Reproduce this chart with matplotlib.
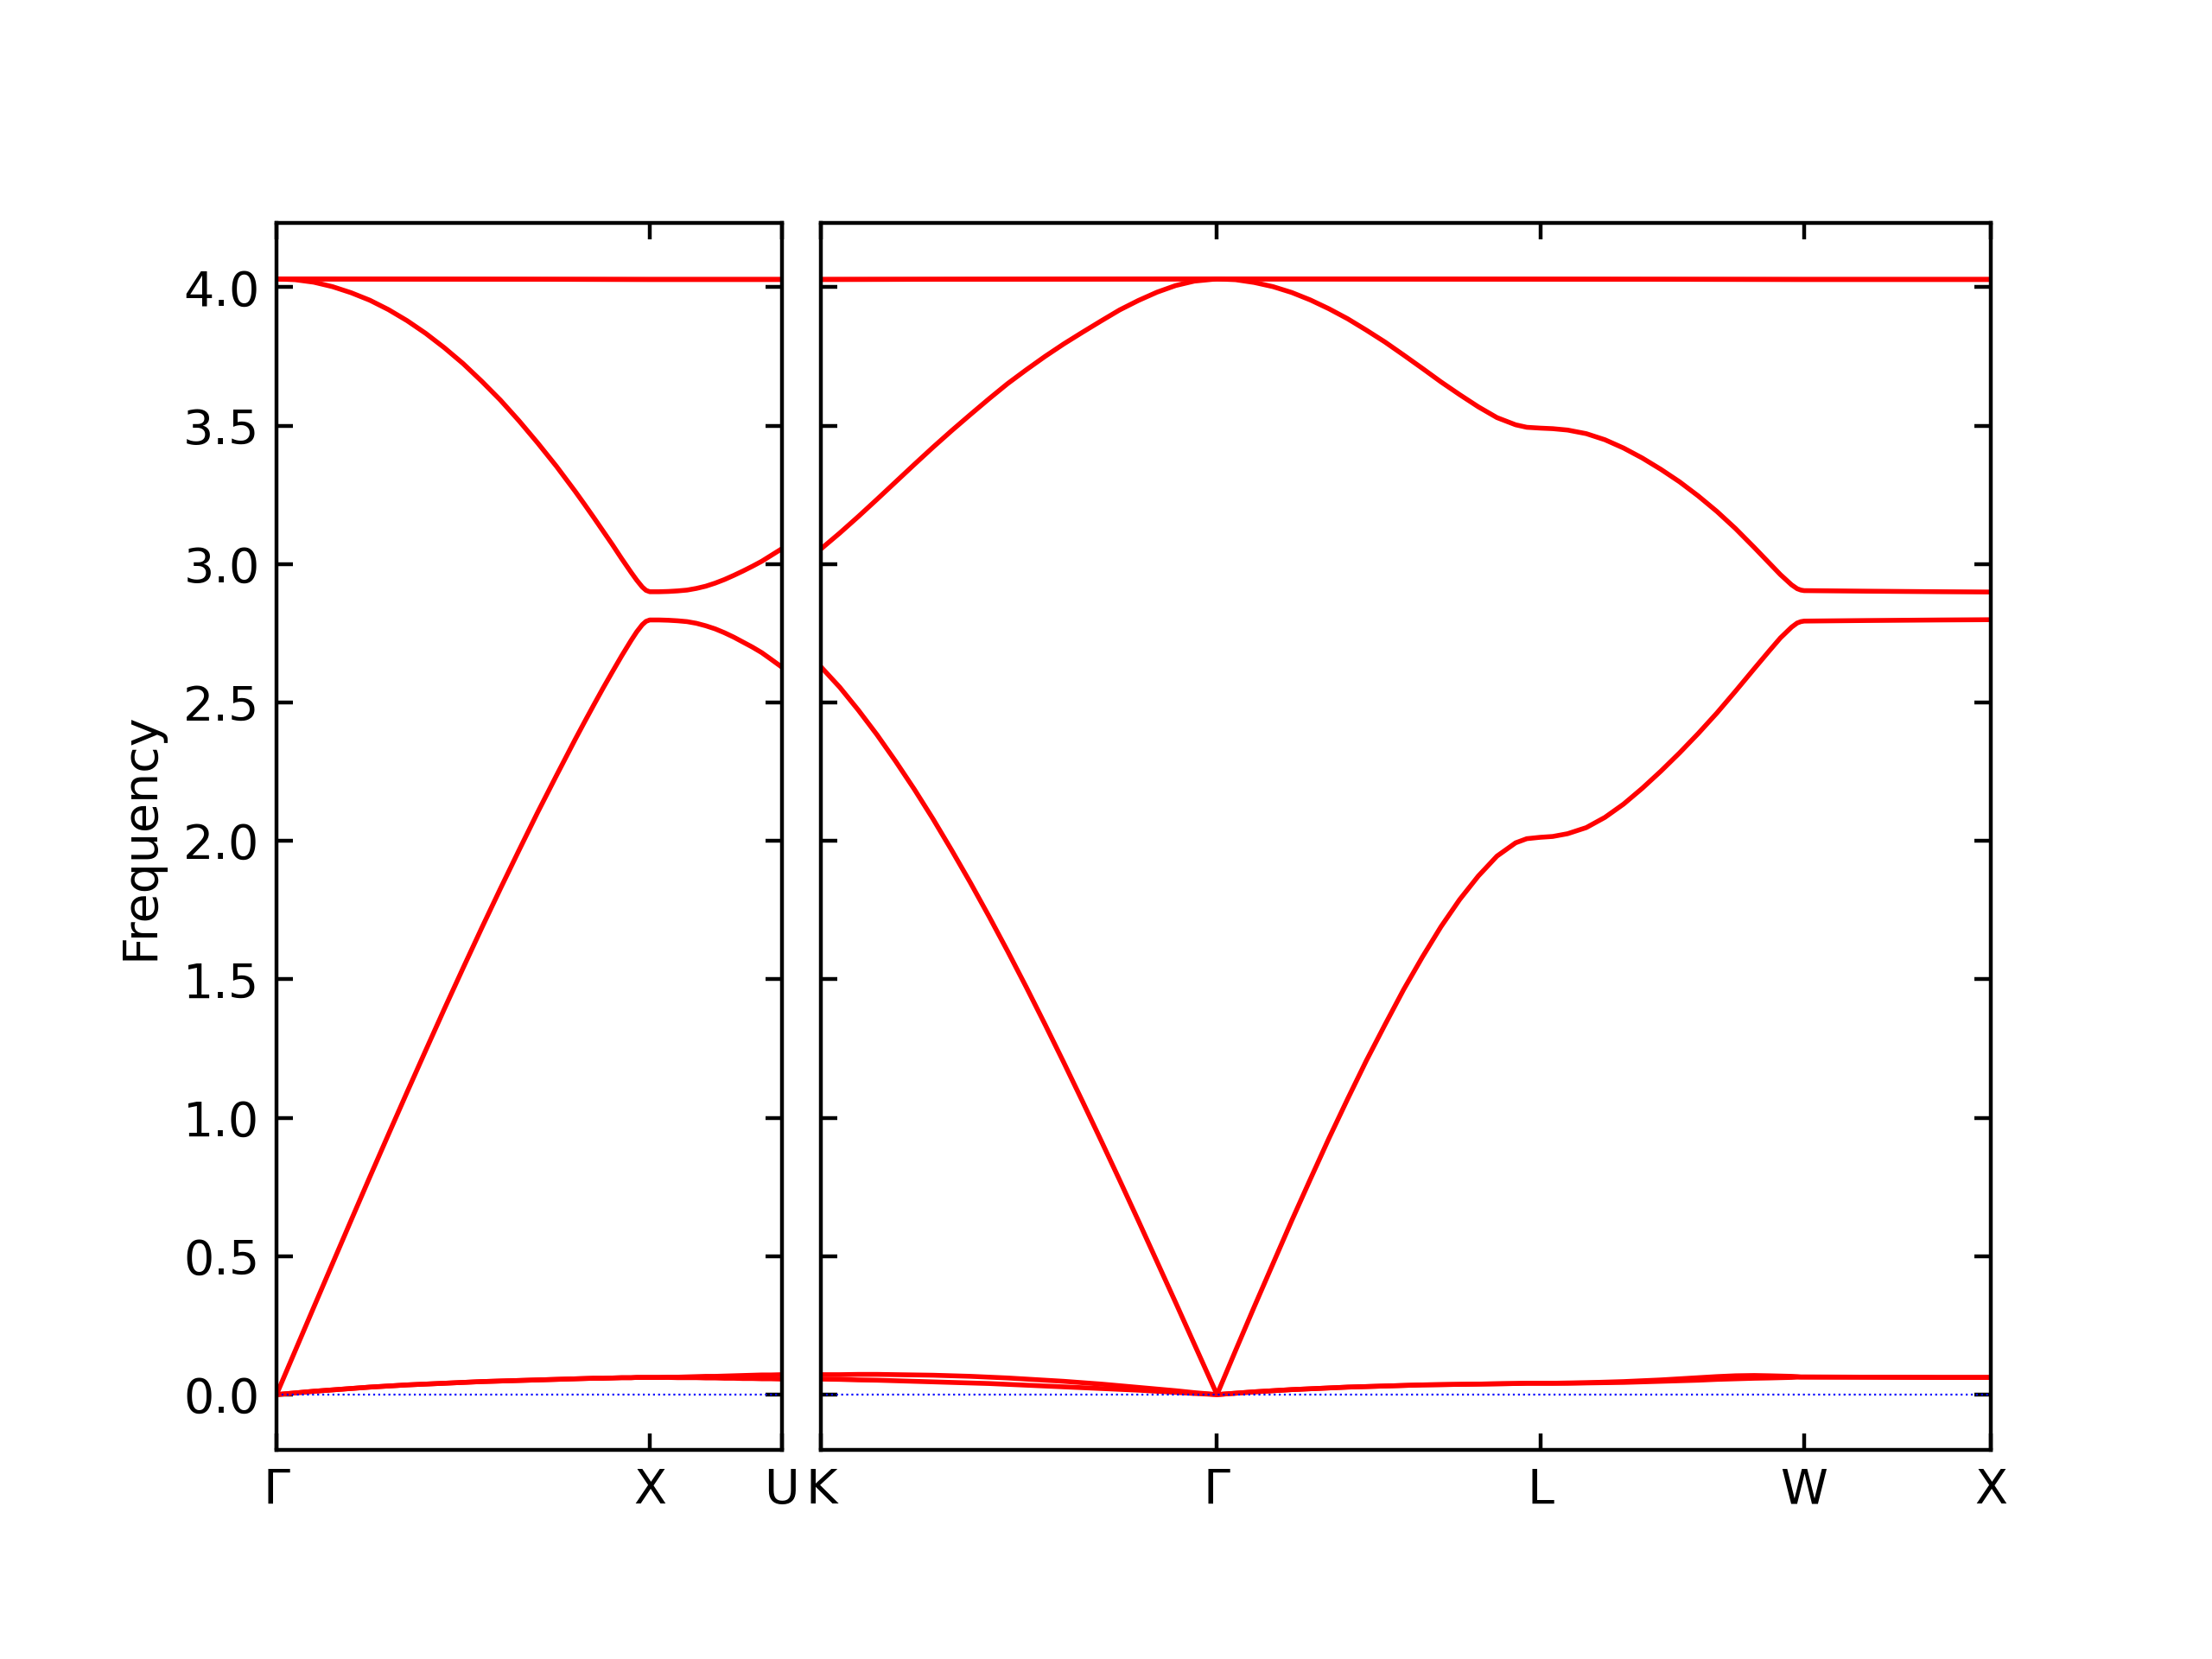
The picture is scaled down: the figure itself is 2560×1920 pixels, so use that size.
import matplotlib
matplotlib.use("Agg")
import matplotlib.pyplot as plt

# path distances of the high-symmetry points
left_ticks = [0.0, 1.0, 1.3536]
left_labels = ['Γ', 'X', 'U']
right_ticks = [0.0, 1.0607, 1.9267, 2.6338, 3.1338]
right_labels = ['K', 'Γ', 'L', 'W', 'X']

# ---- left panel: Γ -> X -> U ----
x_gx = [0.0, 0.05, 0.1, 0.15, 0.2, 0.25, 0.3, 0.35, 0.4, 0.45, 0.5, 0.55, 0.6, 0.65,
        0.7, 0.75, 0.8, 0.825, 0.85, 0.875, 0.9, 0.925, 0.95, 0.965, 0.98, 0.99, 1.0]
lo_gx = [4.030, 4.027, 4.018, 4.002, 3.980, 3.953, 3.919, 3.879, 3.833, 3.781, 3.724, 3.660, 3.592, 3.517,
         3.437, 3.353, 3.263, 3.216, 3.168, 3.119, 3.070, 3.019, 2.970, 2.942, 2.917, 2.905, 2.900]
la_gx = [0.0, 0.158, 0.316, 0.473, 0.630, 0.786, 0.940, 1.093, 1.244, 1.394, 1.541, 1.686, 1.828, 1.967,
         2.104, 2.236, 2.366, 2.429, 2.491, 2.552, 2.611, 2.669, 2.724, 2.755, 2.781, 2.793, 2.798]
ta_gx = [0.0, 0.006, 0.012, 0.017, 0.022, 0.027, 0.031, 0.035, 0.038, 0.041, 0.044, 0.047, 0.049, 0.051,
         0.053, 0.055, 0.057, 0.058, 0.059, 0.059, 0.060, 0.061, 0.061, 0.062, 0.062, 0.062, 0.062]

x_xu = [1.0, 1.025, 1.05, 1.075, 1.1, 1.125, 1.15, 1.175, 1.2, 1.225, 1.25, 1.275, 1.3, 1.325, 1.3536]
lo_xu = [2.900, 2.900, 2.901, 2.903, 2.906, 2.912, 2.920, 2.931, 2.944, 2.959, 2.975, 2.992, 3.010, 3.031, 3.055]
la_xu = [2.798, 2.798, 2.797, 2.795, 2.792, 2.786, 2.777, 2.766, 2.752, 2.736, 2.718, 2.700, 2.680, 2.656, 2.628]
ta1_xu = [0.062, 0.062, 0.063, 0.063, 0.064, 0.065, 0.066, 0.066, 0.067, 0.068, 0.069, 0.070, 0.071, 0.071, 0.072]
ta2_xu = [0.062, 0.062, 0.062, 0.061, 0.061, 0.061, 0.060, 0.060, 0.059, 0.059, 0.058, 0.058, 0.057, 0.057, 0.056]

to_left_x = [0.0, 0.5, 1.0, 1.3536]
to_left = [4.030, 4.029, 4.028, 4.028]

# ---- right panel: K -> Γ -> L -> W -> X ----
x_kg = [0.0, 0.05, 0.1, 0.15, 0.2, 0.25, 0.3, 0.35, 0.4, 0.45, 0.5,
        0.55, 0.6, 0.65, 0.7, 0.75, 0.8, 0.85, 0.9, 0.95, 1.0, 1.0607]
lo_kg = [3.055, 3.112, 3.172, 3.234, 3.297, 3.360, 3.422, 3.482, 3.540, 3.597, 3.652,
         3.702, 3.750, 3.795, 3.837, 3.878, 3.918, 3.952, 3.982, 4.006, 4.022, 4.030]
la_kg = [2.628, 2.555, 2.472, 2.383, 2.287, 2.186, 2.079, 1.966, 1.849, 1.727, 1.601,
         1.471, 1.337, 1.200, 1.060, 0.918, 0.774, 0.628, 0.480, 0.332, 0.182, 0.0]
ta1_kg = [0.072, 0.072, 0.073, 0.073, 0.072, 0.071, 0.070, 0.068, 0.066, 0.063, 0.060,
          0.056, 0.052, 0.048, 0.043, 0.038, 0.032, 0.026, 0.020, 0.014, 0.007, 0.0]
ta2_kg = [0.056, 0.055, 0.053, 0.052, 0.050, 0.048, 0.046, 0.044, 0.042, 0.040, 0.037,
          0.034, 0.031, 0.028, 0.025, 0.022, 0.019, 0.016, 0.012, 0.008, 0.004, 0.0]

x_gl = [1.0607, 1.1107, 1.1607, 1.2107, 1.2607, 1.3107, 1.3607, 1.4107, 1.4607, 1.5107,
        1.5607, 1.6107, 1.6607, 1.7107, 1.7607, 1.8107, 1.8607, 1.8907, 1.9267]
lo_gl = [4.030, 4.027, 4.017, 4.002, 3.981, 3.954, 3.922, 3.886, 3.845, 3.802,
         3.755, 3.707, 3.658, 3.612, 3.568, 3.529, 3.503, 3.494, 3.491]
la_gl = [0.0, 0.160, 0.318, 0.473, 0.628, 0.778, 0.926, 1.068, 1.206, 1.336,
         1.463, 1.580, 1.690, 1.788, 1.873, 1.945, 1.993, 2.008, 2.013]
ta_gl = [0.0, 0.005, 0.010, 0.014, 0.018, 0.021, 0.024, 0.027, 0.029, 0.031,
         0.033, 0.035, 0.036, 0.037, 0.038, 0.039, 0.040, 0.041, 0.041]

x_lw = [1.9267, 1.96, 2.0, 2.05, 2.1, 2.15, 2.2, 2.25, 2.3, 2.35,
        2.4, 2.45, 2.5, 2.54, 2.57, 2.6, 2.615, 2.625, 2.6338]
lo_lw = [3.491, 3.489, 3.484, 3.471, 3.449, 3.419, 3.383, 3.342, 3.297, 3.246,
         3.190, 3.128, 3.060, 3.004, 2.962, 2.925, 2.911, 2.906, 2.904]
la_lw = [2.013, 2.016, 2.026, 2.048, 2.085, 2.133, 2.190, 2.252, 2.318, 2.388,
         2.462, 2.541, 2.622, 2.686, 2.733, 2.772, 2.787, 2.792, 2.794]
ta1_lw = [0.041, 0.041, 0.042, 0.043, 0.045, 0.047, 0.050, 0.053, 0.057, 0.061,
          0.065, 0.068, 0.069, 0.068, 0.067, 0.066, 0.065, 0.064, 0.064]
ta2_lw = [0.041, 0.041, 0.041, 0.042, 0.043, 0.044, 0.046, 0.048, 0.050, 0.052,
          0.055, 0.057, 0.059, 0.060, 0.061, 0.062, 0.063, 0.063, 0.063]

x_wx = [2.6338, 2.8, 3.0, 3.1338]
lo_wx = [2.904, 2.902, 2.900, 2.899]
la_wx = [2.794, 2.796, 2.798, 2.799]
ta_wx = [0.064, 0.063, 0.062, 0.062]

to_right_x = [0.0, 1.0607, 1.9267, 2.6338, 3.1338]
to_right = [4.028, 4.030, 4.029, 4.028, 4.028]

ymin, ymax = -0.2, 4.232

fig = plt.figure(figsize=(6.4, 4.8), dpi=400)
gs = fig.add_gridspec(1, 2, width_ratios=[left_ticks[-1], right_ticks[-1]],
                      left=0.125, right=0.9, bottom=0.126, top=0.8656, wspace=0.047)
ax1 = fig.add_subplot(gs[0])
ax2 = fig.add_subplot(gs[1])

lw = 1.0
# left panel
xl = x_gx + x_xu[1:]
ax1.plot(xl, lo_gx + lo_xu[1:], 'r-', lw=lw)
ax1.plot(xl, la_gx + la_xu[1:], 'r-', lw=lw)
ax1.plot(xl, ta_gx + ta1_xu[1:], 'r-', lw=lw)
ax1.plot(xl, ta_gx + ta2_xu[1:], 'r-', lw=lw)
ax1.plot(to_left_x, to_left, 'r-', lw=lw)
ax1.plot(to_left_x, to_left, 'r-', lw=lw)

# right panel
xr = x_kg + x_gl[1:] + x_lw[1:] + x_wx[1:]
ax2.plot(xr, lo_kg + lo_gl[1:] + lo_lw[1:] + lo_wx[1:], 'r-', lw=lw)
ax2.plot(xr, la_kg + la_gl[1:] + la_lw[1:] + la_wx[1:], 'r-', lw=lw)
ax2.plot(xr, ta1_kg + ta_gl[1:] + ta1_lw[1:] + ta_wx[1:], 'r-', lw=lw)
ax2.plot(xr, ta2_kg + ta_gl[1:] + ta2_lw[1:] + ta_wx[1:], 'r-', lw=lw)
ax2.plot(to_right_x, to_right, 'r-', lw=lw)
ax2.plot(to_right_x, to_right, 'r-', lw=lw)

for ax, ticks, labels in [(ax1, left_ticks, left_labels), (ax2, right_ticks, right_labels)]:
    ax.axhline(0.0, color='b', linestyle=':', lw=0.4)
    ax.set_xlim(ticks[0], ticks[-1])
    ax.set_ylim(ymin, ymax)
    ax.set_xticks(ticks)
    ax.set_xticklabels(labels)
    ax.set_yticks([0.0, 0.5, 1.0, 1.5, 2.0, 2.5, 3.0, 3.5, 4.0])
    ax.tick_params(direction='in', top=True, right=True, labelsize=10)

ax2.set_yticklabels([])
ax1.set_ylabel('Frequency')

fig.savefig('out.png', dpi=400)
